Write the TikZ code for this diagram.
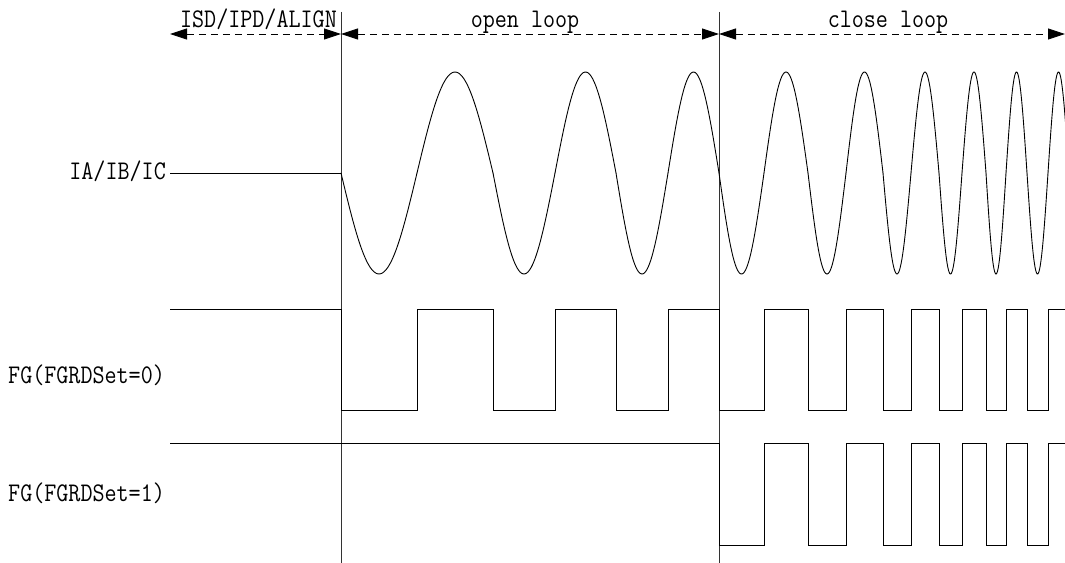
\documentclass[tikz,border=0pt]{standalone}
\usetikzlibrary{arrows.meta}
\begin{document}
\begin{tikzpicture}[x=1bp,y=-1bp,
  wave/.style={line width=0.9bp,black,line join=miter},
  divider/.style={line width=0.9bp,black!80},
  tip/.style={Triangle[length=17bp,width=11bp]},
  spanarrow/.style={line width=0.9bp,dash pattern=on 7bp off 5bp,{Triangle[length=17bp,width=11bp]}-{Triangle[length=17bp,width=11bp]}},
  lbl/.style={inner sep=0pt,font=\ttfamily\fontsize{23.4bp}{28bp}\selectfont}]
\useasboundingbox[fill=white] (0,0) rectangle (1065,563);

% dividers
\coordinate (d1top) at (341,12);
\coordinate (d1bot) at (341,563);
\coordinate (d2top) at (719,12);
\coordinate (d2bot) at (719,563);
\draw[divider] (d1top) -- (d1bot);
\draw[divider] (d2top) -- (d2bot);

% span arrows
\coordinate (aL) at (170,34);
\coordinate (a1) at (341,34);
\coordinate (a2) at (719,34);
\coordinate (aR) at (1065,34);
\draw[spanarrow] (aL) -- (a1);
\draw[spanarrow] (a1) -- (a2);
\draw[spanarrow] (a2) -- (aR);

% phase labels
\node[lbl,anchor=base east] (isd) at (337,28) {\scalebox{1}[1.15]{ISD/IPD/ALIGN}};
\node[lbl,anchor=base] (open) at (525,28) {\scalebox{1}[1.15]{open loop}};
\node[lbl,anchor=base] (close) at (888,28) {\scalebox{1}[1.15]{close loop}};

% signal labels
\node[lbl,anchor=base east] (ia) at (166,180) {\scalebox{1}[1.15]{IA/IB/IC}};
\node[lbl,anchor=base west] (fg0) at (8,383) {\scalebox{1}[1.15]{FG(FGRDSet=0)}};
\node[lbl,anchor=base west] (fg1) at (8,501) {\scalebox{1}[1.15]{FG(FGRDSet=1)}};

% current waveform
\draw[wave] (170,173) -- (341,173);
\begin{scope}
\clip (0,0) rectangle (1065,563);
\foreach \a/\b/\s in {341/417/-1,417/493/1,493/555/-1,555/616/1,616/668/-1,668/719/1,
  719/764/-1,764/808/1,808/846/-1,846/883/1,883/911/-1,911/939/1,939/962/-1,962/986/1,
  986/1006/-1,1006/1027/1,1027/1048/-1,1048/1069/1}
  \draw[wave,line cap=round] plot[domain=\a:\b,samples=40,smooth] (\x,{173-\s*101*sin(180*(\x-\a)/(\b-\a))});
\end{scope}

% FG (FGRDSet=0)
\draw[wave] (170,309) -- (341,309) -- (341,410) -- (417,410) -- (417,309) -- (493,309) -- (493,410)
  -- (555,410) -- (555,309) -- (616,309) -- (616,410) -- (668,410) -- (668,309) -- (719,309)
  -- (719,410) -- (764,410) -- (764,309) -- (808,309) -- (808,410) -- (846,410) -- (846,309)
  -- (883,309) -- (883,410) -- (911,410) -- (911,309) -- (939,309) -- (939,410) -- (962,410)
  -- (962,309) -- (986,309) -- (986,410) -- (1006,410) -- (1006,309) -- (1027,309) -- (1027,410)
  -- (1048,410) -- (1048,309) -- (1065,309);

% FG (FGRDSet=1)
\draw[wave] (170,443) -- (719,443)
  -- (719,545) -- (764,545) -- (764,443) -- (808,443) -- (808,545) -- (846,545) -- (846,443)
  -- (883,443) -- (883,545) -- (911,545) -- (911,443) -- (939,443) -- (939,545) -- (962,545)
  -- (962,443) -- (986,443) -- (986,545) -- (1006,545) -- (1006,443) -- (1027,443) -- (1027,545)
  -- (1048,545) -- (1048,443) -- (1065,443);
\end{tikzpicture}
\end{document}
